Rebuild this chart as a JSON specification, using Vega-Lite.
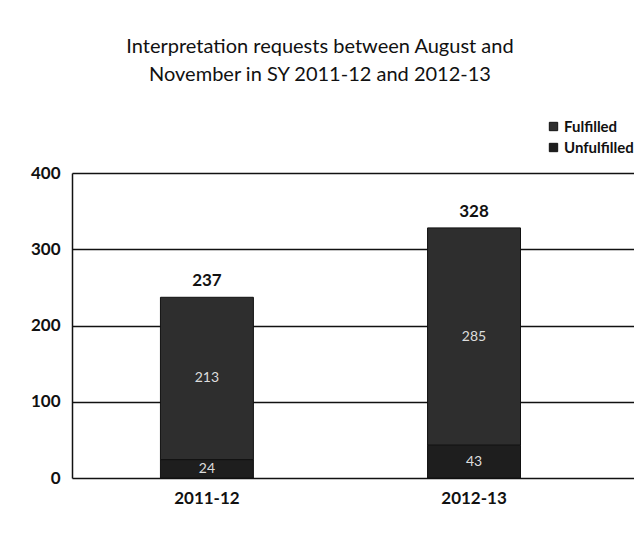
{
  "$schema": "https://vega.github.io/schema/vega-lite/v6.json",
  "autosize": "none",
  "width": 562,
  "height": 305,
  "padding": {"left": 72, "top": 173, "right": 0, "bottom": 70},
  "background": "white",
  "config": {"view": {"stroke": null}, "font": "Lato"},
  "title": {
    "text": ["Interpretation requests between August and", "November in SY 2011-12 and 2012-13"],
    "font": "Lato", "fontSize": 20, "fontWeight": "normal", "color": "#111",
    "anchor": "middle", "offset": 34, "lineHeight": 28, "dx": -33
  },
  "data": {"values": [
    {"year": "2011-12", "status": "Fulfilled", "count": 213},
    {"year": "2011-12", "status": "Unfulfilled", "count": 24},
    {"year": "2012-13", "status": "Fulfilled", "count": 285},
    {"year": "2012-13", "status": "Unfulfilled", "count": 43}
  ]},
  "encoding": {
    "x": {"field": "year", "type": "nominal", "sort": null,
      "scale": {"paddingInner": 0.652, "paddingOuter": 0.378, "align": 0.438},
      "axis": {"title": null, "labelAngle": 0, "labelFontSize": 17, "labelFontWeight": "bold", "labelColor": "#111", "ticks": false, "domain": false, "labelPadding": 12}}
  },
  "layer": [
    {
      "mark": {"type": "bar", "stroke": "#111", "strokeWidth": 1},
      "encoding": {
        "y": {"field": "count", "type": "quantitative", "stack": "zero",
          "scale": {"domain": [0, 400]},
          "axis": {"title": null, "values": [0, 100, 200, 300, 400], "labelFontSize": 17, "labelFontWeight": "bold", "labelColor": "#111", "ticks": false, "labelPadding": 12, "domainColor": "#111", "domainWidth": 1.5, "grid": true, "gridColor": "#111", "gridWidth": 1.5, "gridOpacity": 1}},
        "color": {"field": "status", "type": "nominal",
          "scale": {"domain": ["Fulfilled", "Unfulfilled"], "range": ["#2e2e2e", "#1e1e1e"]},
          "legend": {"title": null, "orient": "none", "legendX": 474, "legendY": -54, "symbolType": "square", "symbolSize": 70, "labelFontSize": 15, "labelFontWeight": "bold", "labelColor": "#111", "labelOffset": 3, "rowPadding": 5, "symbolStrokeColor": "#111", "symbolStrokeWidth": 1}},
        "order": {"field": "status", "sort": "descending"}
      }
    },
    {
      "mark": {"type": "text", "color": "#ddd", "fontSize": 14, "font": "Lato"},
      "encoding": {
        "y": {"field": "count", "type": "quantitative", "stack": "zero", "bandPosition": 0.5},
        "detail": {"field": "status"},
        "order": {"field": "status", "sort": "descending"},
        "text": {"field": "count", "type": "quantitative"}
      }
    },
    {
      "transform": [{"aggregate": [{"op": "sum", "field": "count", "as": "total"}], "groupby": ["year"]}],
      "mark": {"type": "text", "dy": -16, "fontSize": 17, "fontWeight": "bold", "color": "#111", "font": "Lato"},
      "encoding": {
        "y": {"field": "total", "type": "quantitative"},
        "text": {"field": "total", "type": "quantitative"}
      }
    }
  ]
}
